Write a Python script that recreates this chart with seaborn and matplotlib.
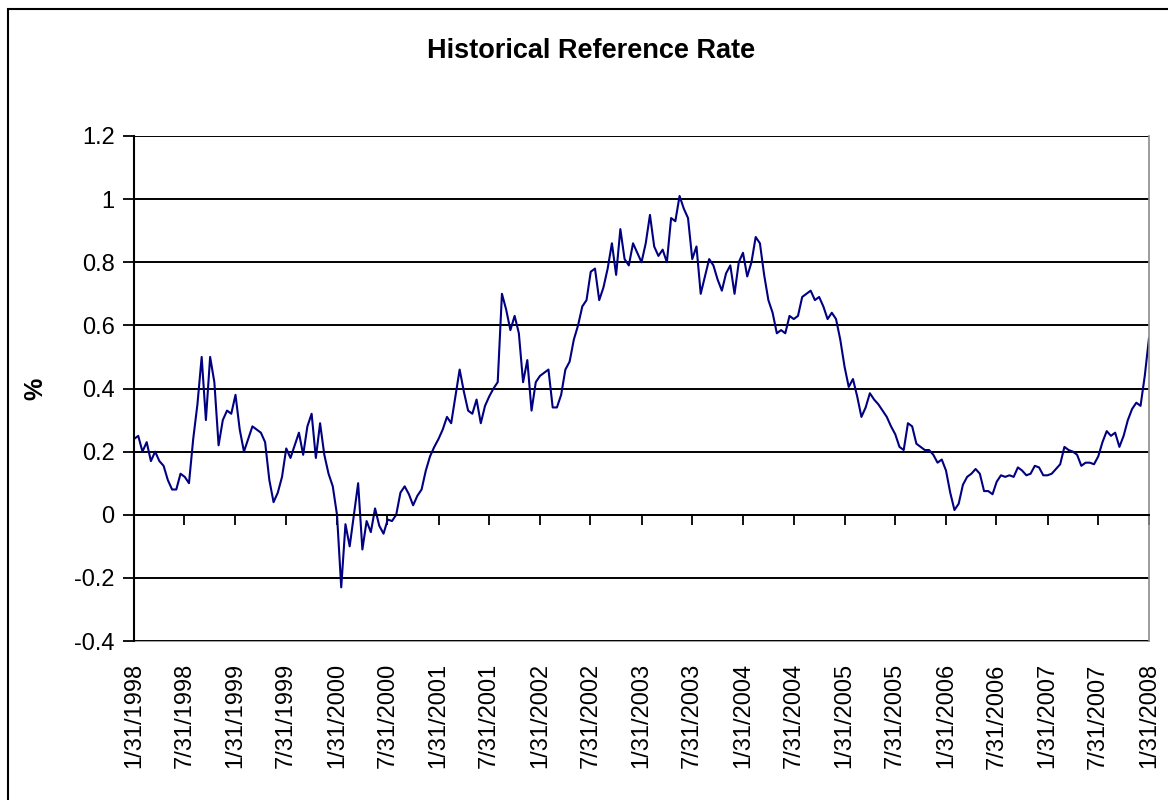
import numpy as np
import pandas as pd
import matplotlib
matplotlib.use("Agg")
import matplotlib.pyplot as plt
from matplotlib.patches import Rectangle
import seaborn as sns

# ---- data (semi-monthly readings, %), 1/31/1998 .. 1/31/2008 ----
rate_1998 = [0.24, 0.25, 0.20, 0.23, 0.17, 0.20, 0.17, 0.155, 0.11, 0.08, 0.08, 0.13,
             0.12, 0.10, 0.24, 0.35, 0.50, 0.30, 0.50, 0.42, 0.22, 0.30, 0.33, 0.32]
rate_1999 = [0.38, 0.27, 0.20, 0.24, 0.28, 0.27, 0.26, 0.23, 0.11, 0.04, 0.07, 0.12,
             0.21, 0.18, 0.22, 0.26, 0.19, 0.28, 0.32, 0.18, 0.29, 0.19, 0.13, 0.09]
rate_2000 = [0.0, -0.23, -0.03, -0.10, 0.0, 0.10, -0.11, -0.02, -0.055, 0.02, -0.035, -0.06,
             -0.015, -0.02, 0.0, 0.07, 0.09, 0.065, 0.03, 0.06, 0.08, 0.14, 0.185, 0.215]
rate_2001 = [0.24, 0.27, 0.31, 0.29, 0.375, 0.46, 0.39, 0.33, 0.32, 0.365, 0.29, 0.345,
             0.375, 0.40, 0.42, 0.70, 0.65, 0.585, 0.63, 0.575, 0.42, 0.49, 0.33, 0.42]
rate_2002 = [0.44, 0.45, 0.46, 0.34, 0.34, 0.38, 0.46, 0.485, 0.555, 0.60, 0.66, 0.68,
             0.77, 0.78, 0.68, 0.72, 0.78, 0.86, 0.76, 0.905, 0.81, 0.79, 0.86, 0.83]
rate_2003 = [0.80, 0.86, 0.95, 0.85, 0.82, 0.84, 0.80, 0.94, 0.93, 1.01, 0.97, 0.94,
             0.81, 0.85, 0.70, 0.755, 0.81, 0.79, 0.745, 0.71, 0.765, 0.79, 0.70, 0.80]
rate_2004 = [0.83, 0.755, 0.80, 0.88, 0.86, 0.76, 0.68, 0.64, 0.575, 0.585, 0.575, 0.63,
             0.62, 0.63, 0.69, 0.70, 0.71, 0.68, 0.69, 0.66, 0.62, 0.64, 0.62, 0.555]
rate_2005 = [0.47, 0.405, 0.43, 0.375, 0.31, 0.34, 0.385, 0.365, 0.35, 0.33, 0.31, 0.28,
             0.255, 0.215, 0.205, 0.29, 0.28, 0.225, 0.215, 0.205, 0.205, 0.19, 0.165, 0.175]
rate_2006 = [0.14, 0.07, 0.015, 0.035, 0.095, 0.12, 0.13, 0.145, 0.13, 0.075, 0.075, 0.065,
             0.105, 0.125, 0.12, 0.125, 0.12, 0.15, 0.14, 0.125, 0.13, 0.155, 0.15, 0.125]
rate_2007 = [0.125, 0.13, 0.145, 0.16, 0.215, 0.205, 0.20, 0.19, 0.155, 0.165, 0.165, 0.16,
             0.185, 0.23, 0.265, 0.25, 0.26, 0.215, 0.25, 0.30, 0.335, 0.355, 0.345, 0.44]
rate_2008 = [0.56]

start_date = "1998-01-31"
end_date = "2008-01-31"
tick_years = list(range(1998, 2009))
tick_months = [1, 7]

title_text = "Historical Reference Rate"
ylabel_text = "%"
y_ticks = [-0.4, -0.2, 0, 0.2, 0.4, 0.6, 0.8, 1, 1.2]

# ---- build table ----
values = (rate_1998 + rate_1999 + rate_2000 + rate_2001 + rate_2002 + rate_2003
          + rate_2004 + rate_2005 + rate_2006 + rate_2007 + rate_2008)
dates = pd.date_range(start_date, end_date, periods=len(values))
df = pd.DataFrame({"date": dates, "rate": values})

tick_dates = [pd.Timestamp(year=y, month=m, day=31) for y in tick_years for m in tick_months
              if pd.Timestamp(year=y, month=m, day=31) <= pd.Timestamp(end_date)]
tick_labels = [f"{d.month}/{d.day}/{d.year}" for d in tick_dates]

# ---- style ----
sns.set_theme(style="white")
plt.rcParams["font.family"] = ["Liberation Sans", "DejaVu Sans"]
plt.rcParams["text.color"] = "black"
plt.rcParams["axes.labelcolor"] = "black"

fig = plt.figure(figsize=(11.68, 8.0), dpi=100)
fig.patch.set_facecolor("white")
ax = fig.add_axes([134 / 1168, 1 - 641 / 800, (1149 - 134) / 1168, (641 - 136) / 800])
ax.set_facecolor("white")

sns.lineplot(data=df, x="date", y="rate", ax=ax, color="#000080", linewidth=1.5)

ax.set_xlim(pd.Timestamp(start_date), pd.Timestamp(end_date))
ax.set_ylim(-0.4, 1.2)

# horizontal gridlines
ax.set_yticks(y_ticks)
ax.set_yticklabels([f"{v:g}" for v in y_ticks])
ax.yaxis.grid(True, color="black", linewidth=1.4)
ax.xaxis.grid(False)
ax.set_axisbelow(True)

# spines
ax.spines["top"].set_visible(False)
ax.spines["right"].set_color("#8c8c8c")
ax.spines["right"].set_linewidth(1.2)
ax.spines["left"].set_color("black")
ax.spines["left"].set_linewidth(1.5)
ax.spines["bottom"].set_position(("data", 0))
ax.spines["bottom"].set_color("black")
ax.spines["bottom"].set_linewidth(1.4)

ax.tick_params(axis="y", direction="out", length=8, width=1.3, color="black",
               labelsize=17, labelcolor="black", pad=6, left=True)
ax.set_xticks(tick_dates)
ax.tick_params(axis="x", direction="out", length=7, width=1.3, color="black",
               labelbottom=False, bottom=True)

# labels at the bottom edge
sec = ax.secondary_xaxis("bottom")
sec.set_xticks(tick_dates)
sec.set_xticklabels(tick_labels, rotation=90, fontsize=17, color="black")
sec.tick_params(axis="x", length=0, pad=16)
sec.spines["bottom"].set_color("#8c8c8c")
sec.spines["bottom"].set_linewidth(1.2)

ax.set_xlabel("")
ax.set_ylabel(ylabel_text, fontsize=18, fontweight="bold", labelpad=19, color="black")
ax.set_title(title_text, fontsize=19.5, fontweight="bold", pad=56, x=0.4507, color="black")

# outer chart border
fig.patches.append(Rectangle((8 / 1168, -0.05), 1.2, 1.05 - 9 / 800,
                             transform=fig.transFigure, fill=False,
                             edgecolor="black", linewidth=1.5))

fig.savefig("out.png", dpi=100, facecolor="white")
